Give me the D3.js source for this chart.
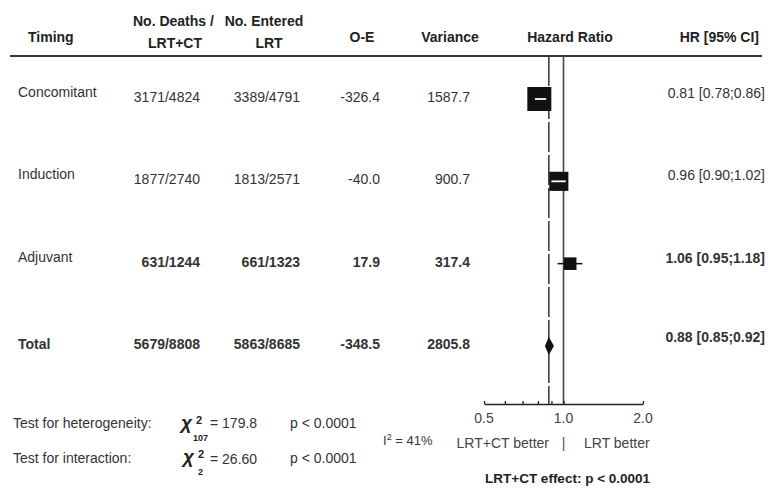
<!DOCTYPE html>
<html><head><meta charset="utf-8">
<script src="https://cdn.jsdelivr.net/npm/d3@7/dist/d3.min.js"></script>
<style>
body{margin:0;background:#fff;}
svg{display:block;font-family:"Liberation Sans",Arial,sans-serif;}
</style></head>
<body><svg id="c" width="768" height="489"></svg>
<script>
const categories = ["Concomitant","Induction","Adjuvant","Total"];
const deathsLRTCT = ["3171/4824","1877/2740","631/1244","5679/8808"];
const deathsLRT   = ["3389/4791","1813/2571","661/1323","5863/8685"];
const oe       = [-326.4, -40.0, 17.9, -348.5];
const variance = [1587.7, 900.7, 317.4, 2805.8];
const hr   = [0.81, 0.96, 1.06, 0.88];
const ciLo = [0.78, 0.90, 0.95, 0.85];
const ciHi = [0.86, 1.02, 1.18, 0.92];
const boldRow = [false, false, true, true];
const axisTicks = [0.5, 0.6, 0.7, 0.8, 0.9, 1.0, 2.0];
const axisLabels = [0.5, 1.0, 2.0];
const overallHR = 0.88;

d3.formatDefaultLocale({decimal: ".", thousands: ",", grouping: [3], currency: ["$", ""], minus: "-"});

const svg = d3.select("#c");
const ink = "#333";
const x = d3.scaleLog().domain([0.5, 2]).range([484, 643]);
const y = d3.scalePoint().domain(categories).range([99, 346]);
const size = d3.scalePow().exponent(0.4).domain([0, 1587.7]).range([0, 24]);
const f1 = d3.format(".1f"), f2 = d3.format(".2f");

function txt(s, xx, yy, o = {}) {
  return svg.append("text").attr("x", xx).attr("y", yy)
    .attr("text-anchor", o.anchor || "start")
    .attr("font-size", o.size || 14)
    .attr("font-weight", o.bold ? "bold" : "normal")
    .attr("fill", o.fill || ink).text(s);
}

// headers
txt("No. Deaths /", 133, 26, {bold: true, fill: "#222"});
txt("No. Entered", 264, 26, {bold: true, anchor: "middle", fill: "#222"});
txt("Timing", 28, 42, {bold: true, fill: "#222"});
txt("LRT+CT", 175, 48, {bold: true, anchor: "middle", fill: "#222"});
txt("LRT", 269, 48, {bold: true, anchor: "middle", fill: "#222"});
txt("O-E", 362, 42, {bold: true, anchor: "middle", fill: "#222"});
txt("Variance", 450, 42, {bold: true, anchor: "middle", fill: "#222"});
txt("Hazard Ratio", 570, 42, {bold: true, anchor: "middle", fill: "#222"});
txt("HR [95% CI]", 759, 42, {bold: true, anchor: "end", fill: "#222"});
svg.append("line").attr("x1", 10).attr("x2", 762).attr("y1", 56).attr("y2", 56)
  .attr("stroke", "#333").attr("stroke-width", 2);

// reference lines
svg.append("line").attr("x1", x(1)).attr("x2", x(1)).attr("y1", 56).attr("y2", 404)
  .attr("stroke", "#444").attr("stroke-width", 1.6);
svg.append("line").attr("x1", x(overallHR)).attr("x2", x(overallHR)).attr("y1", 56).attr("y2", 404)
  .attr("stroke", "#333").attr("stroke-width", 1.5).attr("stroke-dasharray", "30,3");

// rows
categories.forEach((c, i) => {
  const yy = y(c);
  const b = boldRow[i];
  const isTotal = c === "Total";
  txt(c, 18, isTotal ? yy + 3 : yy - 2, {bold: isTotal});
  txt(deathsLRTCT[i], 200, yy + 3, {anchor: "end", bold: b});
  txt(deathsLRT[i], 300, yy + 3, {anchor: "end", bold: b});
  txt(f1(oe[i]), 380, yy + 3, {anchor: "end", bold: b});
  txt(f1(variance[i]), 470, yy + 3, {anchor: "end", bold: b});
  txt(`${f2(hr[i])} [${f2(ciLo[i])};${f2(ciHi[i])}]`, 765, isTotal ? yy - 4 : yy - 1, {anchor: "end", bold: b});

  if (isTotal) {
    const h = 9;
    svg.append("path")
      .attr("d", `M${x(ciLo[i])},${yy}L${x(hr[i])},${yy - h}L${x(ciHi[i])},${yy}L${x(hr[i])},${yy + h}Z`)
      .attr("fill", "#111");
  } else {
    const s = size(variance[i]);
    const cx = x(hr[i]);
    const bl = cx - s / 2, br = cx + s / 2;
    const lo = x(ciLo[i]), hi = x(ciHi[i]);
    const inside = lo >= bl && hi <= br;
    if (!inside) svg.append("line").attr("x1", lo).attr("x2", hi).attr("y1", yy).attr("y2", yy).attr("stroke", "#111").attr("stroke-width", 1.5);
    svg.append("rect").attr("x", bl).attr("y", yy - s / 2).attr("width", s).attr("height", s).attr("fill", "#111");
    if (inside) svg.append("line").attr("x1", Math.max(lo, bl + 2)).attr("x2", Math.min(hi, br - 2)).attr("y1", yy).attr("y2", yy).attr("stroke", "#fff").attr("stroke-width", 1.8);
  }
});

// axis
const axisG = svg.append("g").attr("transform", "translate(0,404)");
axisG.call(d3.axisBottom(x).tickValues(axisTicks).tickSizeInner(-3).tickSizeOuter(0).tickFormat(""));
axisG.select(".domain").attr("stroke", "#222").attr("stroke-width", 1.5);
axisG.selectAll(".tick line").attr("stroke", "#222").attr("stroke-width", 1.3);
axisLabels.forEach(v => txt(f1(v), x(v), 423, {anchor: "middle", fill: "#444"}));
txt("LRT+CT better", 549, 448, {anchor: "end", fill: "#444"});
txt("|", x(1), 448, {anchor: "middle", fill: "#555"});
txt("LRT better", 584, 448, {fill: "#444"});
txt("LRT+CT effect: p < 0.0001", 485, 483, {bold: true, size: 13.5, fill: "#222"});

// tests
txt("Test for heterogeneity:", 13, 428);
txt("Test for interaction:", 13, 463);
function chi(xx, yy, sup, sub, subX) {
  svg.append("text").attr("x", xx).attr("y", yy).attr("font-size", 19).attr("font-weight", "bold")
    .attr("font-style", "italic").attr("fill", "#222").text("χ");
  svg.append("text").attr("x", sup).attr("y", yy - 5).attr("font-size", 11).attr("font-weight", "bold").attr("fill", "#222").text("2");
  svg.append("text").attr("x", subX).attr("y", yy + 12).attr("font-size", 9).attr("font-weight", "bold").attr("fill", "#222").text(sub);
}
chi(181, 429, 196, "107", 193);
txt("= 179.8", 210, 428);
txt("p < 0.0001", 290, 428);
chi(183, 463, 198, "2", 198);
txt("= 26.60", 210, 464);
txt("p < 0.0001", 290, 463);
const i2 = txt("I", 383, 445, {size: 13});
i2.append("tspan").attr("dy", -5).attr("font-size", 9).text("2");
i2.append("tspan").attr("dy", 5).text(" = 41%");
</script></body></html>
